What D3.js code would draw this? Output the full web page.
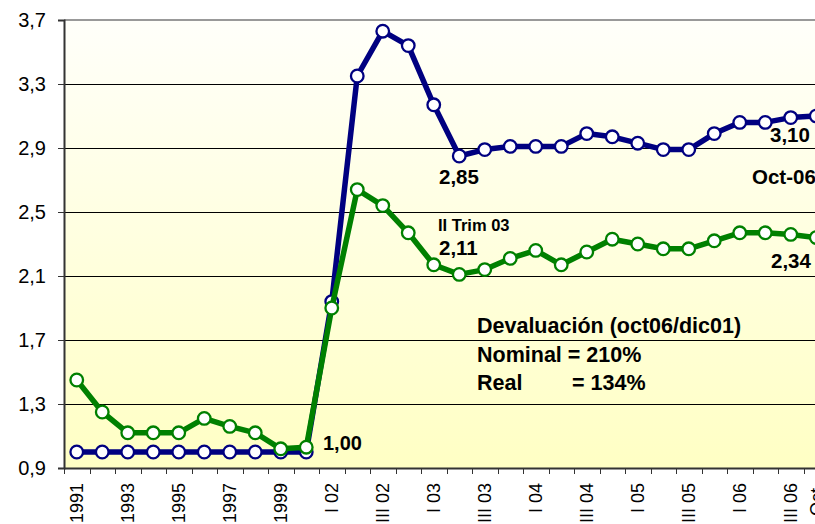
<head>
<script src="https://d3js.org/d3.v7.min.js"></script>
<style>
  body { margin: 0; background: white; }
  svg { font-family: Arial, "Liberation Sans", sans-serif; }
  .ylab text { font-size: 20px; fill: #000; }
  .xlab text { font-size: 18px; fill: #000; }
  .note { font-weight: bold; fill: #000; }
</style>
</head>
<body>
<div id="chart"></div>
<script>
// categories along the x axis
let categories = ["1991","1992","1993","1994","1995","1996","1997","1998","1999","2000",
  "I 02","II 02","III 02","IV 02","I 03","II 03","III 03","IV 03","I 04","II 04","III 04","IV 04",
  "I 05","II 05","III 05","IV 05","I 06","II 06","III 06","Oct."];

// nominal exchange rate (blue)
let nominal = [1.00,1.00,1.00,1.00,1.00,1.00,1.00,1.00,1.00,1.00,
  1.94,3.35,3.63,3.54,3.17,2.85,2.89,2.91,2.91,2.91,2.99,2.97,
  2.93,2.89,2.89,2.99,3.06,3.06,3.09,3.10];

// real exchange rate (green)
let real = [1.45,1.25,1.12,1.12,1.12,1.21,1.16,1.12,1.02,1.03,
  1.90,2.64,2.54,2.37,2.17,2.11,2.14,2.21,2.26,2.17,2.25,2.33,
  2.30,2.27,2.27,2.32,2.37,2.37,2.36,2.34];

let yTicks = [0.9,1.3,1.7,2.1,2.5,2.9,3.3,3.7];

let W = 815, H = 524;
let pLeft = 64, pTop = 20, pBottom = 468, band = 25.5;

let svg = d3.select("#chart").append("svg").attr("width", W).attr("height", H);

let x = d3.scaleBand().domain(categories).range([pLeft, pLeft + categories.length * band]);
let y = d3.scaleLinear().domain([0.9, 3.7]).range([pBottom, pTop]);

let defs = svg.append("defs");
let grad = defs.append("linearGradient").attr("id", "bg").attr("x1", 0).attr("y1", 0).attr("x2", 0).attr("y2", 1);
grad.append("stop").attr("offset", "0%").attr("stop-color", "#fffffa");
grad.append("stop").attr("offset", "100%").attr("stop-color", "#ffffc4");

let plotW = categories.length * band;
svg.append("rect").attr("x", pLeft).attr("y", pTop).attr("width", plotW).attr("height", pBottom - pTop)
  .attr("fill", "url(#bg)");

// gridlines
svg.append("g").selectAll("line").data(yTicks.slice(1, -1)).enter().append("line")
  .attr("x1", pLeft).attr("x2", pLeft + plotW)
  .attr("y1", d => Math.round(y(d)) + 0.5).attr("y2", d => Math.round(y(d)) + 0.5)
  .attr("stroke", "#000").attr("stroke-width", 1);

// top border
svg.append("line").attr("x1", pLeft).attr("x2", pLeft + plotW).attr("y1", pTop).attr("y2", pTop)
  .attr("stroke", "#999").attr("stroke-width", 2);

// y axis
let yAxis = svg.append("g").attr("class", "ylab").attr("transform", "translate(" + pLeft + ",0)")
  .call(d3.axisLeft(y).tickValues(yTicks).tickSize(6).tickPadding(12)
    .tickFormat(d => d.toFixed(1).replace(".", ",")));
yAxis.select(".domain").attr("stroke", "#333").attr("stroke-width", 2);
yAxis.selectAll(".tick line").attr("stroke", "#333");

// x axis
let xAxis = svg.append("g").attr("class", "xlab").attr("transform", "translate(0," + pBottom + ")")
  .call(d3.axisBottom(x).tickSize(0).tickFormat((d, i) => (i % 2 == 0 || i == categories.length - 1) ? d : ""));
xAxis.select(".domain").attr("stroke", "#333").attr("stroke-width", 2);
xAxis.selectAll(".tick text")
  .attr("text-anchor", "end")
  .attr("transform", "translate(0,15) rotate(-90)")
  .attr("x", 0).attr("y", 0).attr("dy", "0.35em");
// tick marks between categories
svg.append("g").selectAll("line").data(d3.range(categories.length + 1)).enter().append("line")
  .attr("x1", i => Math.round(pLeft + i * band) + 0.5).attr("x2", i => Math.round(pLeft + i * band) + 0.5)
  .attr("y1", pBottom).attr("y2", pBottom + 6)
  .attr("stroke", "#333").attr("stroke-width", 1);

let cx = d => x(d) + x.bandwidth() / 2;

function series(values, color) {
  let line = d3.line().x((d, i) => cx(categories[i])).y(d => y(d));
  let g = svg.append("g");
  g.append("path").datum(values).attr("d", line)
    .attr("fill", "none").attr("stroke", color).attr("stroke-width", 5.5).attr("stroke-linejoin", "round");
  g.selectAll("circle").data(values).enter().append("circle")
    .attr("cx", (d, i) => cx(categories[i])).attr("cy", d => y(d)).attr("r", 6.3)
    .attr("fill", "white").attr("stroke", color).attr("stroke-width", 2.3);
}
series(nominal, "#000080");
series(real, "#008000");

// annotations
let notes = [
  ["1,00", 323, 450, 20],
  ["2,85", 439, 184, 20.5],
  ["II Trim 03", 438, 231, 16.5],
  ["2,11", 439, 255, 20.5],
  ["3,10", 770, 142, 20.5],
  ["Oct-06", 752, 184, 20.5],
  ["2,34", 771, 268, 20.5],
  ["Devaluación (oct06/dic01)", 477, 333, 21.5],
  ["Nominal = 210%", 477, 362, 21.5],
  ["Real", 477, 390, 21.5],
  ["= 134%", 572, 390, 21.5]
];
svg.append("g").selectAll("text").data(notes).enter().append("text")
  .attr("class", "note")
  .attr("x", d => d[1]).attr("y", d => d[2])
  .style("font-size", d => d[3] + "px")
  .text(d => d[0]);
</script>
</body>
